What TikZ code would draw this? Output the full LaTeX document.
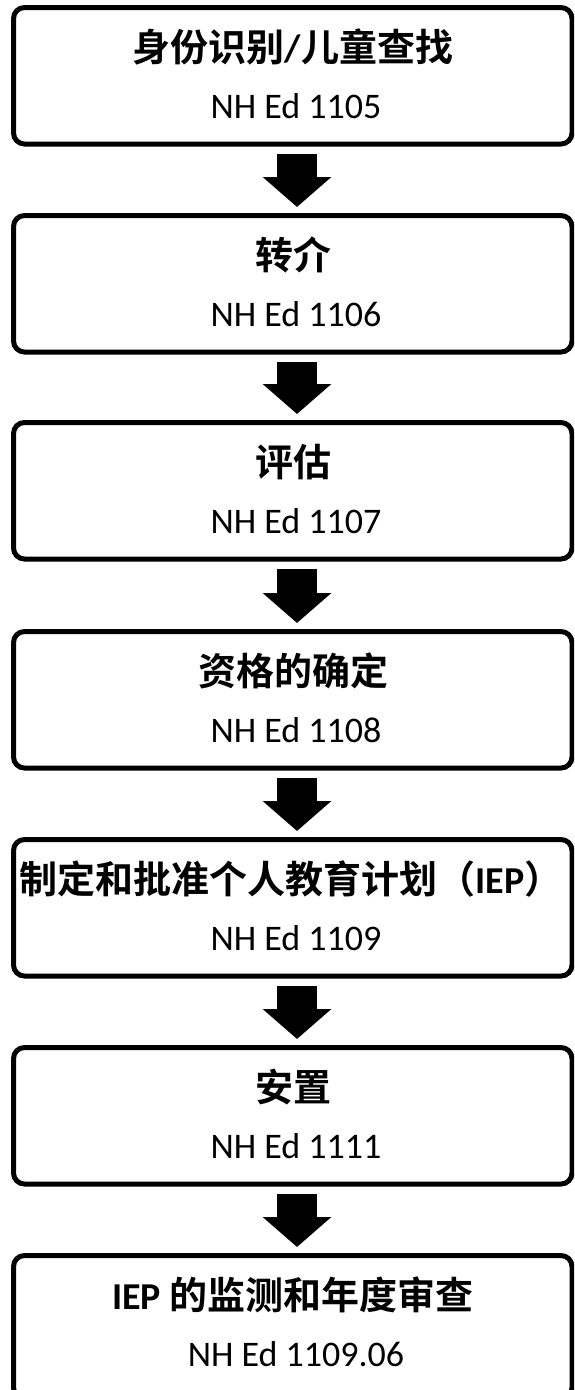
\documentclass[tikz,border=0pt]{standalone}
\usepackage{fontspec}
\setmainfont{Carlito}
\newfontfamily\cjk{Noto Sans CJK SC}[BoldFont={* Bold}]
\usetikzlibrary{arrows.meta}
\newcommand\zh[1]{{\cjk\bfseries #1}}
\begin{document}
\begin{tikzpicture}[x=1pt,y=-1pt,
 box/.style={draw, line width=5pt, rounded corners=11pt, minimum width=558.5pt, minimum height=136.5pt, inner sep=0pt},
 ttl/.style={anchor=base, font=\fontsize{38}{40}\selectfont\bfseries, inner sep=0pt},
 sub/.style={anchor=base, font=\fontsize{36}{40}\selectfont, inner sep=0pt},
 flow/.style={line width=40pt, -{Triangle[width=67pt,length=30pt]}, shorten <=7pt, shorten >=6pt}]
\useasboundingbox (0,0) rectangle (574,1390);
\clip (0,0) rectangle (574,1390);
\coordinate (ax) at (297,0);
\node[box] (b1) at (292.75,75.75) {};
\node[box] (b2) at (292.75,283.75) {};
\node[box] (b3) at (292.75,490.75) {};
\node[box] (b4) at (292.75,699.75) {};
\node[box] (b5) at (292.75,907.75) {};
\node[box] (b6) at (292.75,1115.75) {};
\node[box, minimum height=143pt] (b7) at (292.75,1327) {};
\node[ttl] (t1) at (293,61) {\zh{身份识别}/\zh{儿童查找}};
\node[ttl] (t2) at (293,269) {\zh{转介}};
\node[ttl] (t3) at (293,476) {\zh{评估}};
\node[ttl] (t4) at (293,685) {\zh{资格的确定}};
\node[ttl] (t5) at (291,893) {\zh{制定和批准个人教育计划（}IEP\zh{）}};
\node[ttl] (t6) at (293,1101) {\zh{安置}};
\node[ttl] (t7) at (293,1309) {IEP \zh{的监测和年度审查}};
\node[sub] (s1) at (296,118) {NH Ed 1105};
\node[sub] (s2) at (296,326) {NH Ed 1106};
\node[sub] (s3) at (296,533) {NH Ed 1107};
\node[sub] (s4) at (296,742) {NH Ed 1108};
\node[sub] (s5) at (296,950) {NH Ed 1109};
\node[sub] (s6) at (296,1158) {NH Ed 1111};
\node[sub] (s7) at (296,1366) {NH Ed 1109.06};
\draw[flow] (b1.south -| ax) -- (b2.north -| ax);
\draw[flow] (b2.south -| ax) -- (b3.north -| ax);
\draw[flow] (b3.south -| ax) -- (b4.north -| ax);
\draw[flow] (b4.south -| ax) -- (b5.north -| ax);
\draw[flow] (b5.south -| ax) -- (b6.north -| ax);
\draw[flow] (b6.south -| ax) -- (b7.north -| ax);
\end{tikzpicture}
\end{document}
